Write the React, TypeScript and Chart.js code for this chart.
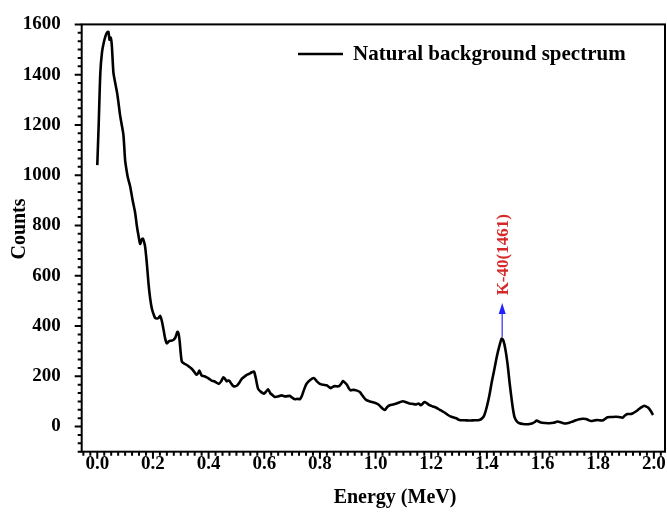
import React, { useEffect, useRef } from 'react';
import { Chart, registerables } from 'chart.js';

Chart.register(...registerables);

// ---------- data ----------
const energies = [
  0.000, 0.005, 0.011, 0.017, 0.023, 0.030, 0.035, 0.040, 0.044, 0.048,
  0.052, 0.058, 0.064, 0.071, 0.076, 0.082, 0.088, 0.094, 0.100, 0.104,
  0.110, 0.118, 0.127, 0.136, 0.142, 0.148, 0.154, 0.160, 0.164, 0.168,
  0.172, 0.178, 0.184, 0.190, 0.196, 0.202, 0.208, 0.215, 0.220, 0.226,
  0.232, 0.238, 0.244, 0.250, 0.256, 0.262, 0.268, 0.274, 0.281, 0.288,
  0.292, 0.296, 0.300, 0.304, 0.313, 0.322, 0.330, 0.340, 0.348, 0.357,
  0.362, 0.367, 0.371, 0.375, 0.384, 0.393, 0.402, 0.411, 0.420, 0.428,
  0.437, 0.445, 0.453, 0.459, 0.465, 0.470, 0.474, 0.482, 0.489, 0.496,
  0.503, 0.511, 0.519, 0.528, 0.537, 0.546, 0.555, 0.563, 0.570, 0.578,
  0.588, 0.599, 0.607, 0.614, 0.622, 0.630, 0.638, 0.650, 0.662, 0.676,
  0.692, 0.700, 0.710, 0.720, 0.728, 0.735, 0.744, 0.752, 0.765, 0.778,
  0.789, 0.800, 0.812, 0.824, 0.832, 0.838, 0.846, 0.853, 0.862, 0.869,
  0.876, 0.883, 0.890, 0.897, 0.904, 0.910, 0.920, 0.931, 0.943, 0.955,
  0.967, 0.980, 0.997, 1.010, 1.022, 1.033, 1.042, 1.051, 1.063, 1.075,
  1.087, 1.098, 1.110, 1.122, 1.134, 1.146, 1.155, 1.162, 1.170, 1.176,
  1.185, 1.194, 1.206, 1.218, 1.233, 1.248, 1.260, 1.272, 1.290, 1.301,
  1.320, 1.337, 1.355, 1.373, 1.385, 1.391, 1.400, 1.409, 1.418, 1.427,
  1.436, 1.445, 1.453, 1.458, 1.463, 1.469, 1.475, 1.481, 1.487, 1.493,
  1.499, 1.508, 1.517, 1.530, 1.546, 1.556, 1.564, 1.572, 1.579, 1.586,
  1.594, 1.610, 1.624, 1.640, 1.654, 1.670, 1.684, 1.696, 1.708, 1.720,
  1.732, 1.744, 1.756, 1.765, 1.774, 1.785, 1.797, 1.805, 1.815, 1.824,
  1.833, 1.848, 1.863, 1.875, 1.887, 1.896, 1.905, 1.915, 1.923, 1.935,
  1.947, 1.956, 1.965, 1.972, 1.980, 1.990, 1.997,
];

const counts = [
  1040, 1200, 1408, 1490, 1526, 1555, 1568, 1570, 1539, 1548,
  1520, 1408, 1370, 1329, 1290, 1238, 1200, 1159, 1060, 1028,
  990, 956, 900, 851, 800, 760, 727, 745, 748, 735,
  715, 650, 570, 510, 470, 448, 432, 430, 432, 440,
  420, 386, 350, 331, 338, 341, 342, 345, 355, 377,
  370, 340, 290, 258, 250, 245, 238, 229, 218, 206,
  212, 223, 212, 203, 200, 196, 190, 183, 180, 175,
  170, 180, 196, 190, 180, 183, 183, 170, 161, 160,
  164, 175, 190, 198, 206, 210, 216, 219, 190, 150,
  138, 131, 140, 148, 132, 125, 118, 120, 124, 120,
  122, 115, 109, 110, 109, 122, 150, 170, 185, 193,
  180, 170, 166, 164, 158, 153, 158, 161, 160, 161,
  170, 181, 175, 166, 152, 144, 146, 144, 138, 120,
  105, 100, 95, 88, 75, 66, 78, 85, 88, 92,
  97, 101, 97, 92, 90, 88, 92, 85, 92, 98,
  92, 85, 80, 75, 65, 56, 46, 39, 33, 26,
  25, 24, 25, 26, 35, 46, 80, 125, 180, 229,
  280, 321, 350, 345, 327, 290, 242, 180, 125, 75,
  39, 20, 13, 10, 9, 11, 13, 18, 24, 20,
  16, 14, 13, 15, 20, 15, 12, 15, 20, 25,
  29, 31, 30, 26, 22, 24, 26, 25, 24, 30,
  37, 38, 39, 38, 35, 44, 50, 50, 52, 60,
  70, 77, 83, 80, 75, 60, 46,
];

const xTickValues = [0.0, 0.2, 0.4, 0.6, 0.8, 1.0, 1.2, 1.4, 1.6, 1.8, 2.0];
const yTickValues = [0, 200, 400, 600, 800, 1000, 1200, 1400, 1600];

const seriesLabel = 'Natural background spectrum';
const xTitle = 'Energy (MeV)';
const yTitle = 'Counts';
const peakLabel = 'K-40(1461)';
const peakEnergy = 1.455;
const arrowStartCount = 355;
const arrowEndCount = 492;
const labelStartCount = 522;

const X_MIN = -0.056;
const X_MAX = 2.04;
const Y_MIN = -100;
const Y_MAX = 1600;
const X_MINOR_PER_MAJOR = 8;
const Y_MINOR_PER_MAJOR = 6;
const X_MAJOR = 0.2;
const Y_MAJOR = 200;

const FONT = '"Liberation Serif", "Times New Roman", serif';

const decorPlugin = {
  id: 'decor',
  afterDraw(chart: any) {
    const { ctx, chartArea, scales } = chart;
    const xs = scales.x;
    const ys = scales.y;
    const { left, right, top, bottom } = chartArea;
    ctx.save();

    // frame
    ctx.strokeStyle = '#000';
    ctx.lineWidth = 2;
    ctx.strokeRect(left, top, right - left, bottom - top);

    // x ticks
    const xStep = X_MAJOR / X_MINOR_PER_MAJOR;
    const xi0 = Math.ceil(X_MIN / xStep - 1e-9);
    const xi1 = Math.floor(X_MAX / xStep + 1e-9);
    ctx.lineWidth = 2;
    ctx.beginPath();
    for (let i = xi0; i <= xi1; i++) {
      const px = xs.getPixelForValue(i * xStep);
      const len = i % X_MINOR_PER_MAJOR === 0 ? 7 : 4;
      ctx.moveTo(px, bottom);
      ctx.lineTo(px, bottom + len);
    }
    // y ticks
    const yStep = Y_MAJOR / Y_MINOR_PER_MAJOR;
    const yi0 = Math.ceil(Y_MIN / yStep - 1e-9);
    const yi1 = Math.floor(Y_MAX / yStep + 1e-9);
    for (let i = yi0; i <= yi1; i++) {
      const py = ys.getPixelForValue(i * yStep);
      const len = i % Y_MINOR_PER_MAJOR === 0 ? 7 : 4;
      ctx.moveTo(left, py);
      ctx.lineTo(left - len, py);
    }
    ctx.stroke();

    // legend
    const ds = chart.data.datasets[0];
    ctx.strokeStyle = ds.borderColor;
    ctx.lineWidth = 2.4;
    ctx.beginPath();
    ctx.moveTo(298, 54);
    ctx.lineTo(343, 54);
    ctx.stroke();
    ctx.fillStyle = '#000';
    ctx.font = `bold 21px ${FONT}`;
    ctx.textAlign = 'left';
    ctx.textBaseline = 'middle';
    ctx.fillText(ds.label, 353, 55);

    // peak annotation
    const ax = xs.getPixelForValue(peakEnergy);
    const ay0 = ys.getPixelForValue(arrowStartCount);
    const ay1 = ys.getPixelForValue(arrowEndCount);
    ctx.strokeStyle = '#5555ff';
    ctx.fillStyle = '#2222ff';
    ctx.lineWidth = 1.5;
    ctx.beginPath();
    ctx.moveTo(ax, ay0);
    ctx.lineTo(ax, ay1 + 10);
    ctx.stroke();
    ctx.beginPath();
    ctx.moveTo(ax, ay1);
    ctx.lineTo(ax - 3.5, ay1 + 11);
    ctx.lineTo(ax + 3.5, ay1 + 11);
    ctx.closePath();
    ctx.fill();

    const ly = ys.getPixelForValue(labelStartCount);
    ctx.save();
    ctx.translate(ax + 1, ly);
    ctx.rotate(-Math.PI / 2);
    ctx.fillStyle = '#d42a2a';
    ctx.font = `bold 17px ${FONT}`;
    ctx.textAlign = 'left';
    ctx.textBaseline = 'middle';
    ctx.fillText(peakLabel, 0, 0);
    ctx.restore();

    // axis titles
    ctx.fillStyle = '#000';
    ctx.font = `bold 20px ${FONT}`;
    ctx.textAlign = 'center';
    ctx.textBaseline = 'middle';
    ctx.fillText(xTitle, 395, 498);
    ctx.save();
    ctx.translate(20, 229);
    ctx.rotate(-Math.PI / 2);
    ctx.fillText(yTitle, 0, 0);
    ctx.restore();

    ctx.restore();
  },
};

export default function App() {
  const canvasRef = useRef<HTMLCanvasElement | null>(null);

  useEffect(() => {
    const canvas = canvasRef.current;
    if (!canvas) return;
    const points = energies.map((e, i) => ({ x: e, y: counts[i] }));
    const chart = new Chart(canvas, {
      type: 'line',
      data: {
        datasets: [
          {
            label: seriesLabel,
            data: points,
            borderColor: '#000000',
            borderWidth: 2.6,
            pointRadius: 0,
            tension: 0.25,
            fill: false,
          },
        ],
      },
      options: {
        responsive: false,
        animation: false,
        devicePixelRatio: 1,
        layout: { padding: { top: 18, right: 2, left: 0, bottom: 0 } },
        plugins: {
          legend: { display: false },
          tooltip: { enabled: false },
        },
        scales: {
          x: {
            type: 'linear',
            min: X_MIN,
            max: X_MAX,
            grid: { display: false },
            border: { display: false },
            afterBuildTicks: (scale: any) => {
              scale.ticks = xTickValues.map((v) => ({ value: v }));
            },
            afterFit: (scale: any) => {
              scale.height = 60.3;
            },
            ticks: {
              color: '#000',
              font: { family: FONT, size: 19, weight: 'bold' },
              padding: -7,
              maxRotation: 0,
              autoSkip: false,
              callback: (v: any) => Number(v).toFixed(1),
            },
          },
          y: {
            type: 'linear',
            min: Y_MIN,
            max: Y_MAX,
            grid: { display: false },
            border: { display: false },
            afterBuildTicks: (scale: any) => {
              scale.ticks = yTickValues.map((v) => ({ value: v }));
            },
            afterFit: (scale: any) => {
              scale.width = 81.7;
            },
            ticks: {
              color: '#000',
              font: { family: FONT, size: 19, weight: 'bold' },
              padding: 13,
              autoSkip: false,
              callback: (v: any) => String(v),
            },
          },
        },
      },
      plugins: [decorPlugin],
    });
    return () => chart.destroy();
  }, []);

  return (
    <div style={{ position: 'absolute', left: 0, top: 0, width: 667, height: 512, background: '#fff' }}>
      <canvas ref={canvasRef} width={667} height={512} style={{ display: 'block' }} />
    </div>
  );
}
